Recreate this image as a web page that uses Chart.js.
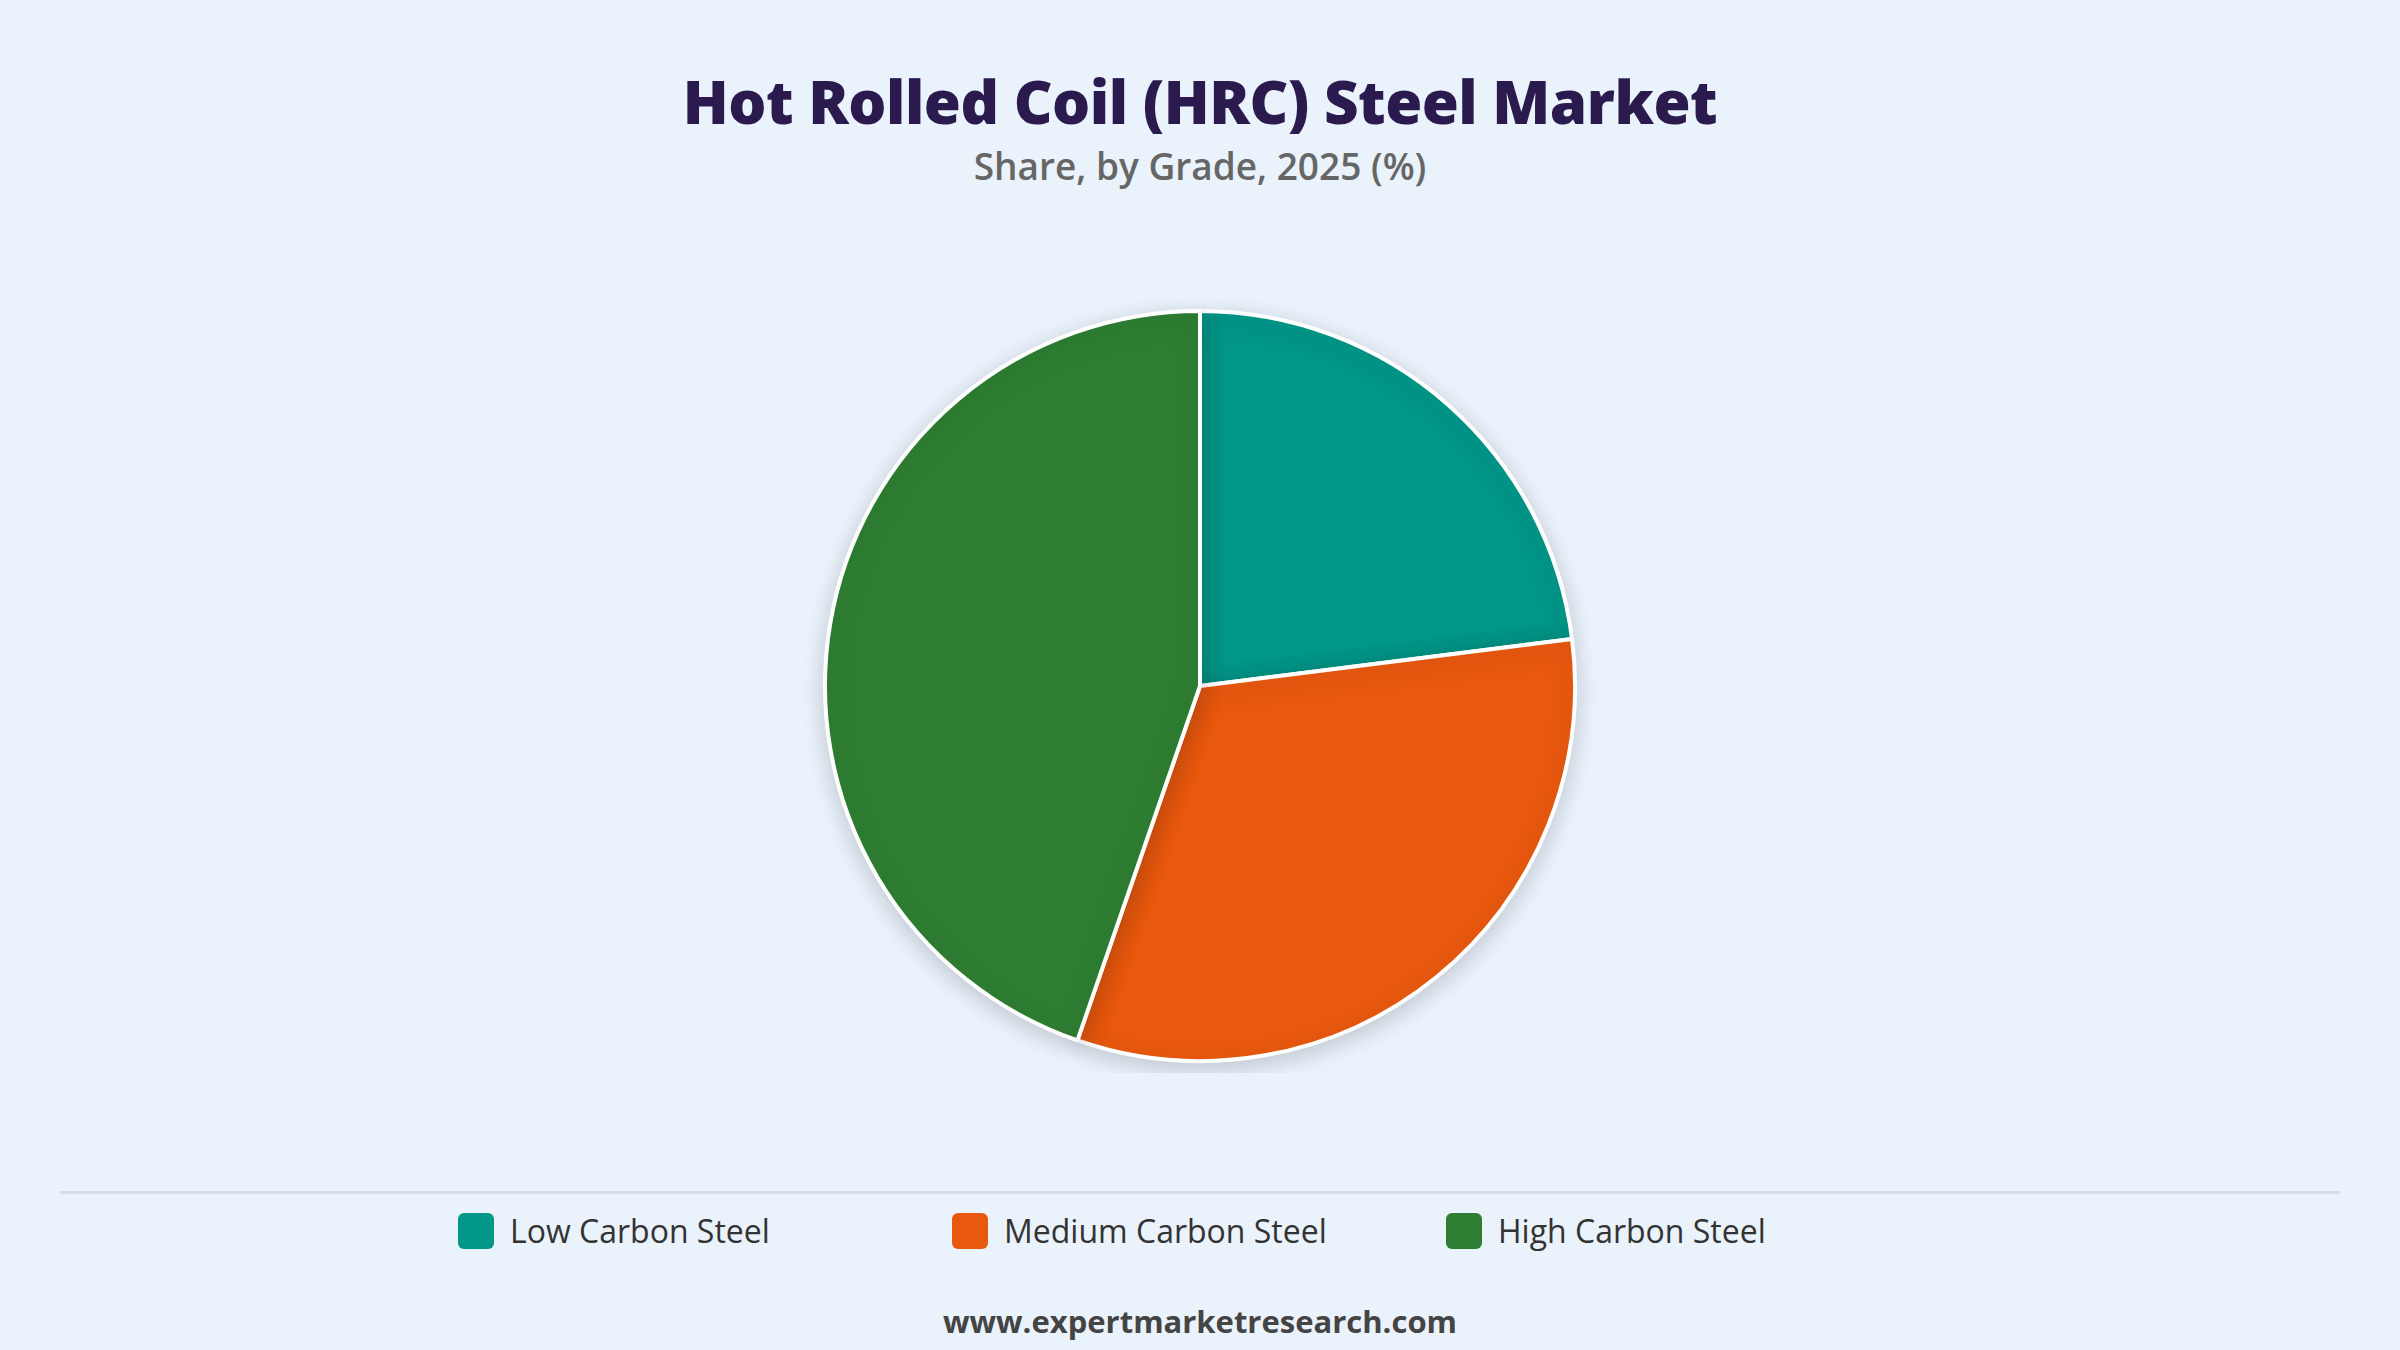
<!DOCTYPE html>
<html>
<head>
<meta charset="utf-8">
<script src="https://cdn.jsdelivr.net/npm/chart.js@4"></script>
<style>
  body { margin:0; width:2400px; height:1350px; background:#eaf2fc; font-family:"Open Sans", sans-serif; position:relative; overflow:hidden; }
  #title { position:absolute; top:60px; width:100%; text-align:center; font-size:60px; font-weight:800; color:#2a1a4e; letter-spacing:-0.5px; }
  #sub { position:absolute; top:140px; width:100%; text-align:center; font-size:37px; font-weight:600; color:#666; }
  #pie { position:absolute; left:800px; top:299px; width:800px; height:774px; }
  #sep { position:absolute; left:60px; right:60px; top:1191px; border-top:3px solid #d9dde3; }
  #legend { position:absolute; top:1209px; left:458px; display:flex; }
  .item { display:flex; align-items:center; font-size:32px; color:#333; width:494px; }
  .sw { width:36px; height:36px; border-radius:6px; margin-right:16px; }
  #foot { position:absolute; top:1300px; width:100%; text-align:center; font-size:31px; font-weight:700; color:#444; }
</style>
</head>
<body>
<div id="title">Hot Rolled Coil (HRC) Steel Market</div>
<div id="sub">Share, by Grade, 2025 (%)</div>
<div id="pie"><canvas id="c"></canvas></div>
<div id="sep"></div>
<div id="legend"></div>
<div id="foot">www.expertmarketresearch.com</div>
<script>
const categories = ["Low Carbon Steel", "Medium Carbon Steel", "High Carbon Steel"];
const shares = [23, 32.3, 44.7];
const colors = ["#009688", "#e8580f", "#2e7d32"];

const legend = document.getElementById("legend");
categories.forEach((c, i) => {
  const d = document.createElement("div");
  d.className = "item";
  d.innerHTML = '<span class="sw" style="background:' + colors[i] + '"></span>' + c;
  legend.appendChild(d);
});

const shadow = {
  id: "shadow",
  beforeDatasetsDraw(chart) { const ctx = chart.ctx; ctx.save(); ctx.shadowColor = "rgba(0,0,0,0.18)"; ctx.shadowBlur = 24; ctx.shadowOffsetY = 6; },
  afterDatasetsDraw(chart) { chart.ctx.restore(); }
};

new Chart(document.getElementById("c"), {
  type: "pie",
  data: { labels: categories, datasets: [{ data: shares, backgroundColor: colors, borderColor: "#ffffff", borderWidth: 4 }] },
  options: {
    responsive: true, maintainAspectRatio: false, animation: false,
    layout: { padding: 10 },
    plugins: { legend: { display: false }, tooltip: { enabled: false } }
  },
  plugins: [shadow]
});
</script>
</body>
</html>
